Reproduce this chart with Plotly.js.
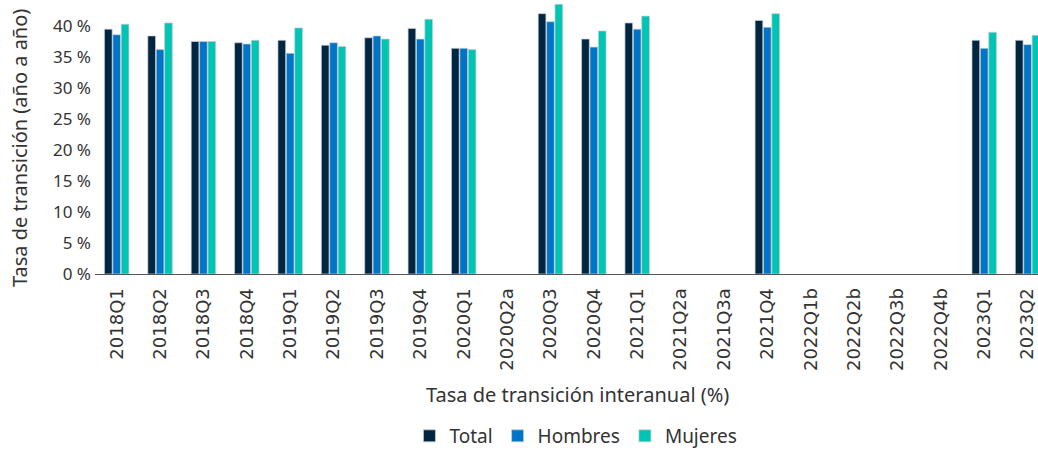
<!DOCTYPE html>
<html>
<head>
<meta charset="utf-8">
<script src="https://cdn.plot.ly/plotly-3.0.1.min.js"></script>
<style>
  html, body { margin: 0; padding: 0; background: #ffffff; overflow: hidden; }
  #chart { width: 1038px; height: 455px; }
</style>
</head>
<body>
<div id="chart"></div>
<script>
// Quarters (suffixed entries are empty placeholder periods)
const quarters = [
  "2018Q1", "2018Q2", "2018Q3", "2018Q4",
  "2019Q1", "2019Q2", "2019Q3", "2019Q4",
  "2020Q1", "2020Q2a", "2020Q3", "2020Q4",
  "2021Q1", "2021Q2a", "2021Q3a", "2021Q4",
  "2022Q1b", "2022Q2b", "2022Q3b", "2022Q4b",
  "2023Q1", "2023Q2"
];

// Year-on-year transition rate, %
const total = [
  39.5, 38.4, 37.5, 37.3,
  37.7, 36.9, 38.1, 39.6,
  36.4, null, 42.0, 37.9,
  40.5, null, null, 40.9,
  null, null, null, null,
  37.7, 37.7
];
const hombres = [
  38.6, 36.2, 37.5, 37.1,
  35.6, 37.3, 38.4, 37.9,
  36.4, null, 40.7, 36.6,
  39.5, null, null, 39.8,
  null, null, null, null,
  36.4, 37.0
];
const mujeres = [
  40.3, 40.5, 37.5, 37.7,
  39.7, 36.7, 37.9, 41.1,
  36.2, null, 43.5, 39.2,
  41.6, null, null, 42.0,
  null, null, null, null,
  39.0, 38.5
];

// Y-axis ticks and their labels
const yTicks = [0, 5, 10, 15, 20, 25, 30, 35, 40];
const yTickLabels = ["0 %", "5 %", "10 %", "15 %", "20 %", "25 %", "30 %", "35 %", "40 %"];

const textFont = "'Noto Sans', 'Open Sans', sans-serif";
const edge = { color: "rgba(200,205,210,0.9)", width: 0.8 };

function series(name, values, color) {
  return {
    type: "bar",
    name: name,
    x: quarters,
    y: values,
    marker: { color: color, line: edge },
    hoverinfo: "x+y+name"
  };
}

const data = [
  series("Total", total, "#002642"),
  series("Hombres", hombres, "#0075c8"),
  series("Mujeres", mujeres, "#00c4b4")
];

const layout = {
  width: 1038,
  height: 455,
  margin: { l: 95, r: 0, t: 0, b: 181, pad: 0, autoexpand: false },
  paper_bgcolor: "#ffffff",
  plot_bgcolor: "#ffffff",
  barmode: "group",
  bargap: 0.42,
  bargroupgap: 0.08,
  showlegend: true,
  legend: {
    orientation: "h",
    xref: "paper",
    x: 0.51,
    xanchor: "center",
    yref: "container",
    y: -0.013,
    yanchor: "bottom",
    font: { family: textFont, size: 19, color: "#333333" },
    itemwidth: 30,
    traceorder: "normal"
  },
  xaxis: {
    type: "category",
    range: [-0.5, 21.24],
    tickangle: -90,
    ticks: "",
    ticklabelstandoff: 6,
    tickfont: { family: "'DejaVu Sans', sans-serif", size: 18, color: "#333333" },
    showline: true,
    linecolor: "#555555",
    linewidth: 1,
    showgrid: false,
    zeroline: false,
    automargin: false,
    fixedrange: true
  },
  yaxis: {
    range: [0, 44.2],
    tickmode: "array",
    tickvals: yTicks,
    ticktext: yTickLabels,
    ticks: "",
    ticklabelstandoff: 3,
    tickfont: { family: textFont, size: 17, color: "#333333" },
    showline: false,
    showgrid: false,
    zeroline: false,
    automargin: false,
    fixedrange: true
  },
  annotations: [
    {
      text: "Tasa de transición interanual (%)",
      xref: "paper", yref: "paper",
      x: 0.512, y: -0.441,
      xanchor: "center", yanchor: "middle",
      showarrow: false,
      font: { family: textFont, size: 20, color: "#333333" }
    },
    {
      text: "Tasa de transición (año a año)",
      xref: "paper", yref: "paper",
      x: -0.0795, y: 0.46,
      xanchor: "center", yanchor: "middle",
      textangle: -90,
      showarrow: false,
      font: { family: textFont, size: 20, color: "#333333" }
    }
  ]
};

Plotly.newPlot("chart", data, layout, { displayModeBar: false, responsive: false });
</script>
</body>
</html>
